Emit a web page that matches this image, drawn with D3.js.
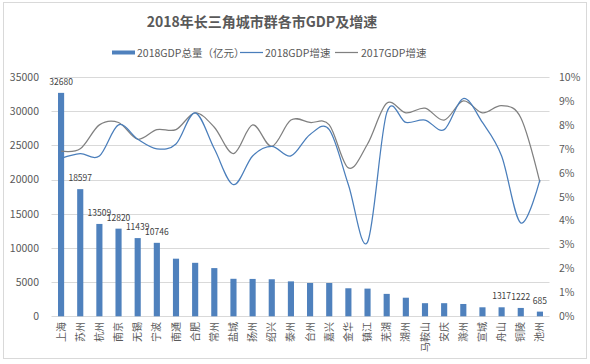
<!DOCTYPE html>
<html><head><meta charset="utf-8">
<script src="https://cdn.jsdelivr.net/npm/d3@7"></script>
<style>
body{margin:0;background:#fff;}
text{font-family:"Noto Sans CJK SC","Noto Sans",sans-serif;}
</style></head>
<body><svg id="c" width="590" height="364"></svg>
<script>
const cities = ["上海","苏州","杭州","南京","无锡","宁波","南通","合肥","常州","盐城","扬州","绍兴","泰州","台州","嘉兴","金华","镇江","芜湖","湖州","马鞍山","安庆","滁州","宣城","舟山","铜陵","池州"];
const gdp2018 = [32680,18597,13509,12820,11439,10746,8427,7823,7050,5487,5466,5417,5108,4875,4872,4100,4050,3279,2719,1918,1918,1801,1317,1317,1222,685];
const growth2018 = [6.6,6.8,6.7,8.0,7.4,7.0,7.2,8.5,7.0,5.5,6.7,7.1,6.7,7.6,7.8,5.5,3.1,8.5,8.1,8.2,7.8,9.1,8.1,6.7,3.9,5.7];
const growth2017 = [6.9,7.0,8.0,8.1,7.4,7.8,7.8,8.5,7.9,6.8,8.0,7.1,8.2,8.1,8.0,6.2,7.2,8.9,8.5,8.7,8.2,9.0,8.5,8.8,8.3,5.6];
const labeledIdx = [0,1,2,3,4,5,23,24,25];
const leftTicks = [0,5000,10000,15000,20000,25000,30000,35000];
const rightTicks = [0,1,2,3,4,5,6,7,8,9,10];
const title = "2018年长三角城市群各市GDP及增速";
const legendNames = ["2018GDP总量（亿元）","2018GDP增速","2017GDP增速"];

const svg = d3.select("#c");
const C = {bar:"#4f81bd", l18:"#4a7ebb", l17:"#808080", grid:"#d9d9d9", txt:"#595959"};
svg.append("rect").attr("x",3.5).attr("y",2.5).attr("width",583).attr("height",356)
  .attr("fill","#fff").attr("stroke","#d9d9d9");

const x = d3.scaleBand().domain(cities).range([51.5,549.5]).paddingInner(0.68).paddingOuter(0.34);
const y = d3.scaleLinear().domain([0,35000]).range([316.3,77]);
const y2 = d3.scaleLinear().domain([0,10]).range([316.3,77]);

// gridlines
svg.append("g").selectAll("line").data(leftTicks).join("line")
  .attr("x1",51.5).attr("x2",549.5).attr("y1",d=>Math.round(y(d))+0.5).attr("y2",d=>Math.round(y(d))+0.5)
  .attr("stroke",C.grid).attr("stroke-width",1);

// left axis
const ga = svg.append("g").attr("transform","translate(44,0)")
  .call(d3.axisLeft(y).tickValues(leftTicks).tickSize(0).tickPadding(5).tickFormat(d3.format("d")));
ga.select(".domain").remove();
ga.selectAll("text").attr("fill",C.txt).attr("font-size",10.5);

// right axis
const gr = svg.append("g").attr("transform","translate(555,0)")
  .call(d3.axisRight(y2).tickValues(rightTicks).tickSize(0).tickPadding(4).tickFormat(d=>d+"%"));
gr.select(".domain").remove();
gr.selectAll("text").attr("fill",C.txt).attr("font-size",10.5);

// x labels
const gx = svg.append("g");
gx.selectAll("text").data(cities).join("text")
  .attr("transform",d=>`translate(${x(d)+x.bandwidth()/2+3.5},322) rotate(-90)`)
  .attr("text-anchor","end").attr("font-size",10).attr("fill",C.txt).text(d=>d);

// bars
svg.append("g").selectAll("rect").data(gdp2018).join("rect")
  .attr("x",(d,i)=>x(cities[i])).attr("width",x.bandwidth())
  .attr("y",d=>y(d)).attr("height",d=>y(0)-y(d)).attr("fill",C.bar);

// bar labels
svg.append("g").selectAll("text").data(labeledIdx).join("text")
  .attr("x",i=>x(cities[i])+x.bandwidth()/2).attr("y",i=>y(gdp2018[i])-8)
  .attr("text-anchor","middle").attr("font-size",8.5).attr("fill","#404040").text(i=>gdp2018[i]);

// lines
const line = d3.line().x((d,i)=>x(cities[i])+x.bandwidth()/2).y(d=>y2(d)).curve(d3.curveCardinal.tension(0));
svg.append("path").datum(growth2017).attr("d",line).attr("fill","none").attr("stroke",C.l17).attr("stroke-width",1.25);
svg.append("path").datum(growth2018).attr("d",line).attr("fill","none").attr("stroke",C.l18).attr("stroke-width",1.25);

// title
svg.append("text").attr("x",262).attr("y",27).attr("text-anchor","middle")
  .attr("font-size",14).attr("font-weight","bold").attr("fill",C.txt).text(title);

// legend
const lg = svg.append("g");
lg.append("rect").attr("x",112).attr("y",50.5).attr("width",23).attr("height",4).attr("fill",C.bar);
lg.append("text").attr("x",137).attr("y",56.5).attr("font-size",10.5).attr("fill",C.txt).text(legendNames[0]);
lg.append("line").attr("x1",240).attr("x2",263).attr("y1",52.5).attr("y2",52.5).attr("stroke",C.l18).attr("stroke-width",1.25);
lg.append("text").attr("x",265).attr("y",56.5).attr("font-size",10.5).attr("fill",C.txt).text(legendNames[1]);
lg.append("line").attr("x1",335).attr("x2",358).attr("y1",52.5).attr("y2",52.5).attr("stroke",C.l17).attr("stroke-width",1.25);
lg.append("text").attr("x",361).attr("y",56.5).attr("font-size",10.5).attr("fill",C.txt).text(legendNames[2]);
</script></body></html>
